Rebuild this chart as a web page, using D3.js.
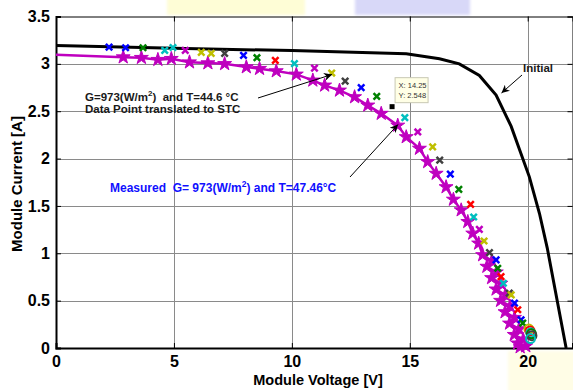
<!DOCTYPE html>
<html>
<head>
<meta charset="utf-8">
<script src="https://cdn.jsdelivr.net/npm/d3@7"></script>
<style>
  body { margin: 0; background: #fff; }
  svg { display: block; font-family: Arial, 'Liberation Sans', sans-serif; }
  text { white-space: pre; }
</style>
</head>
<body>
<div id="chart"></div>
<script>
// Initial (model) curve
let initialV = [0, 5, 10, 14.85, 16.26, 17.1, 17.95, 18.66, 19.3, 20.07, 20.5, 20.83, 21.63];
let initialI = [3.195, 3.165, 3.14, 3.107, 3.054, 3.0, 2.878, 2.67, 2.34, 1.807, 1.42, 1.055, 0];

// Measured curve (stars)
let measV = [0, 2.85, 3.62, 4.32, 4.89, 5.66, 6.44, 7.15, 8.07, 8.63, 9.34, 10.19, 10.89, 11.39, 12.02,
  12.66, 13.22, 13.79, 14.49, 14.85, 15.41, 15.76, 16.12, 16.54, 16.85, 17.18, 17.46, 17.67, 17.92, 18.09,
  18.48, 18.27, 18.67, 18.47, 18.86, 18.66, 19.05, 18.85, 19.25, 19.04, 19.44, 19.23, 19.63, 19.43,
  19.81, 19.57, 19.92, 19.68];
let measI = [3.095, 3.071, 3.065, 3.044, 3.054, 3.018, 3.008, 3.0, 2.966, 2.949, 2.924, 2.889, 2.826, 2.773, 2.72,
  2.65, 2.562, 2.475, 2.35, 2.228, 2.106, 1.965, 1.842, 1.7, 1.568, 1.456, 1.333, 1.21, 1.105, 0.982,
  0.92, 0.86, 0.8, 0.74, 0.68, 0.62, 0.56, 0.5, 0.44, 0.38, 0.32, 0.26, 0.2, 0.14,
  0.09, 0.05, 0.02, 0.01];

// Translated data points (x markers), series index into the color order
let stcV = [2.25, 2.95, 3.69, 4.61, 4.96, 5.48, 6.16, 6.58, 7.15, 7.95, 8.52, 9.3, 10.11, 10.96, 11.69,
  12.26, 12.94, 13.6, 14.79, 15.34, 15.97, 16.27, 16.72, 17.08, 17.58, 17.71, 17.95, 18.15, 18.38,
  18.66, 18.73, 18.87, 18.97, 19.22, 19.3, 19.44, 19.58, 19.72, 19.79];
let stcI = [3.177, 3.17, 3.17, 3.142, 3.173, 3.142, 3.121, 3.11, 3.11, 3.089, 3.065, 3.037, 3.002, 2.955, 2.903,
  2.818, 2.749, 2.657, 2.433, 2.281, 2.123, 1.983, 1.836, 1.675, 1.517, 1.383, 1.253, 1.13, 1.007,
  0.93, 0.842, 0.754, 0.684, 0.58, 0.561, 0.474, 0.404, 0.298, 0.263];
let stcSeries = [0, 0, 1, 3, 3, 4, 5, 5, 6, 0, 1, 2, 3, 4, 5,
  6, 0, 1, 3, 4, 5, 6, 0, 1, 2, 3, 4, 5, 6,
  0, 1, 2, 3, 6, 5, 0, 2, 0, 1];

// Open-circle markers near Voc
let endV = [20.05, 20.1, 20.13, 20.16, 20.18, 20.12];
let endI = [0.2, 0.18, 0.16, 0.15, 0.13, 0.1];
let endSeries = [5, 2, 3, 1, 6, 3];

// Data tip
let tipV = 14.25;
let tipI = 2.548;

// Axis ticks
let xTicks = [0, 5, 10, 15, 20];
let yTicks = [0, 0.5, 1, 1.5, 2, 2.5, 3, 3.5];

// MATLAB color order
let colorOrder = ['#0000ff', '#008000', '#ff0000', '#00bfbf', '#bf00bf', '#bfbf00', '#404040'];

let width = 573;
let height = 390;

let svg = d3.select('#chart')
  .append('svg')
  .attr('width', width)
  .attr('height', height);

// Faint watermark patches around the figure
let blur = svg.append('defs').append('filter').attr('id', 'soft');
blur.append('feGaussianBlur').attr('stdDeviation', 1.5);
svg.append('rect').attr('x', 167).attr('y', -4).attr('width', 138).attr('height', 19)
  .attr('fill', '#fefdd6').attr('filter', 'url(#soft)');
svg.append('rect').attr('x', 355).attr('y', -4).attr('width', 115).attr('height', 19)
  .attr('fill', '#d8d8f8').attr('filter', 'url(#soft)');
svg.append('rect').attr('x', 508).attr('y', 351).attr('width', 70).attr('height', 45)
  .attr('fill', '#fffde6').attr('filter', 'url(#soft)');

let x = d3.scaleLinear().domain([0, 21.9]).range([56, 572.5]);
let y = d3.scaleLinear().domain([0, 3.5]).range([348, 16.5]);

// Grid
let grid = svg.append('g').attr('stroke', '#8a8a8a').attr('stroke-width', 1);
grid.selectAll('.gx')
  .data(xTicks.slice(1))
  .enter()
  .append('line')
  .attr('x1', (d) => Math.round(x(d)) + 0.5)
  .attr('x2', (d) => Math.round(x(d)) + 0.5)
  .attr('y1', y(3.5))
  .attr('y2', y(0));
grid.selectAll('.gy')
  .data(yTicks.slice(1, -1))
  .enter()
  .append('line')
  .attr('x1', x(0))
  .attr('x2', x(21.9))
  .attr('y1', (d) => Math.round(y(d)) + 0.5)
  .attr('y2', (d) => Math.round(y(d)) + 0.5);

// Axes (ticks pointing inward)
let axisFont = 'bold 16px Arial, "Liberation Sans", sans-serif';
let xAxis = svg.append('g')
  .attr('transform', 'translate(0,' + y(0) + ')')
  .call(d3.axisBottom(x).tickValues(xTicks).tickSize(-5).tickPadding(8).tickFormat(d3.format('d')));
let yAxis = svg.append('g')
  .attr('transform', 'translate(' + x(0) + ',0)')
  .call(d3.axisLeft(y).tickValues(yTicks).tickSize(-5).tickPadding(6).tickFormat((d) => d));
let xTop = svg.append('g')
  .attr('transform', 'translate(0,' + y(3.5) + ')')
  .call(d3.axisTop(x).tickValues(xTicks).tickSize(-5).tickFormat(''));
let yRight = svg.append('g')
  .attr('transform', 'translate(' + x(21.9) + ',0)')
  .call(d3.axisRight(y).tickValues(yTicks).tickSize(-5).tickFormat(''));

[xAxis, yAxis, xTop, yRight].forEach((a) => {
  a.selectAll('.domain').attr('stroke', '#000');
  a.selectAll('.tick line').attr('stroke', '#000');
  a.selectAll('text').style('font', axisFont).attr('fill', '#000');
});
xAxis.select('.domain').attr('stroke-width', 2);
yAxis.select('.domain').attr('stroke-width', 2);

// Axis titles
svg.append('text')
  .attr('x', 318)
  .attr('y', 385)
  .attr('text-anchor', 'middle')
  .style('font', 'bold 14.5px Arial, "Liberation Sans", sans-serif')
  .text('Module Voltage [V]');
svg.append('text')
  .attr('transform', 'translate(22,184) rotate(-90)')
  .attr('text-anchor', 'middle')
  .style('font', 'bold 15px Arial, "Liberation Sans", sans-serif')
  .text('Module Current [A]');

let line = d3.line()
  .x((d) => x(d[0]))
  .y((d) => y(d[1]));

// Initial curve
svg.append('path')
  .attr('d', line(d3.zip(initialV, initialI)))
  .attr('fill', 'none')
  .attr('stroke', '#000')
  .attr('stroke-width', 3);

// Measured curve
let measured = d3.zip(measV, measI);
svg.append('path')
  .attr('d', line(measured))
  .attr('fill', 'none')
  .attr('stroke', '#bf00bf')
  .attr('stroke-width', 2.5);

let star = d3.symbol().type(d3.symbolStar).size(60);
svg.selectAll('.star')
  .data(measured.slice(1))
  .enter()
  .append('path')
  .attr('d', star)
  .attr('transform', (d) => 'translate(' + x(d[0]) + ',' + y(d[1]) + ')')
  .attr('fill', '#bf00bf')
  .attr('stroke', '#bf00bf')
  .attr('stroke-width', 1);

// x markers
let s = 3.2;
svg.selectAll('.xm')
  .data(d3.zip(stcV, stcI, stcSeries))
  .enter()
  .append('path')
  .attr('d', 'M' + -s + ',' + -s + 'L' + s + ',' + s + 'M' + -s + ',' + s + 'L' + s + ',' + -s)
  .attr('transform', (d) => 'translate(' + x(d[0]) + ',' + y(d[1]) + ')')
  .attr('stroke', (d) => colorOrder[d[2]])
  .attr('stroke-width', 2.5)
  .attr('fill', 'none');

// Open circles at the end of the sweep
svg.selectAll('.om')
  .data(d3.zip(endV, endI, endSeries))
  .enter()
  .append('circle')
  .attr('cx', (d) => x(d[0]))
  .attr('cy', (d) => y(d[1]))
  .attr('r', 4.5)
  .attr('fill', 'none')
  .attr('stroke', (d) => colorOrder[d[2]])
  .attr('stroke-width', 2);

// Data tip
svg.append('rect')
  .attr('x', x(tipV) - 2.5)
  .attr('y', y(tipI) - 2.5)
  .attr('width', 5)
  .attr('height', 5)
  .attr('fill', '#000');
let tip = svg.append('g').attr('transform', 'translate(' + (x(tipV) + 3) + ',' + (y(tipI) - 29) + ')');
tip.append('rect')
  .attr('width', 33)
  .attr('height', 25)
  .attr('fill', '#ffffe6')
  .attr('stroke', '#c8c8b4');
tip.append('text').attr('x', 3.5).attr('y', 10.5).style('font', '7.5px Arial, "Liberation Sans", sans-serif')
  .attr('fill', '#333').text('X: ' + tipV);
tip.append('text').attr('x', 3.5).attr('y', 20.5).style('font', '7.5px Arial, "Liberation Sans", sans-serif')
  .attr('fill', '#333').text('Y: ' + tipI);

// Arrows
svg.append('defs').append('marker')
  .attr('id', 'head')
  .attr('viewBox', '0 0 10 10')
  .attr('refX', 10)
  .attr('refY', 5)
  .attr('markerWidth', 10)
  .attr('markerHeight', 8)
  .attr('markerUnits', 'userSpaceOnUse')
  .attr('orient', 'auto')
  .append('path')
  .attr('d', 'M0,0L10,5L0,10L3,5Z')
  .attr('fill', '#000');

let arrows = [
  [258, 98, 332, 74.5],
  [522, 75, 501.5, 93],
  [350, 177, 398, 124.5]
];
svg.selectAll('.arrow')
  .data(arrows)
  .enter()
  .append('line')
  .attr('x1', (d) => d[0])
  .attr('y1', (d) => d[1])
  .attr('x2', (d) => d[2])
  .attr('y2', (d) => d[3])
  .attr('stroke', '#000')
  .attr('stroke-width', 1)
  .attr('marker-end', 'url(#head)');

// Annotations
let noteFont = 'bold 11.5px Arial, "Liberation Sans", sans-serif';
let note1 = svg.append('text').attr('x', 85).attr('y', 101).style('font', noteFont).attr('fill', '#1a1a1a');
note1.append('tspan').text('G=973(W/m');
note1.append('tspan').attr('dy', -5).style('font-size', '8px').text('2');
note1.append('tspan').attr('dy', 5).text(')  and T=44.6 °C');
svg.append('text').attr('x', 85).attr('y', 113).style('font', noteFont).attr('fill', '#1a1a1a')
  .text('Data Point translated to STC');

svg.append('text').attr('x', 523).attr('y', 72).style('font', noteFont).attr('fill', '#1a1a1a')
  .text('Initial');

let note3 = svg.append('text').attr('x', 110).attr('y', 192)
  .style('font', 'bold 12px Arial, "Liberation Sans", sans-serif').attr('fill', '#1010ff');
note3.append('tspan').text('Measured  G= 973(W/m');
note3.append('tspan').attr('dy', -5).style('font-size', '8.5px').text('2');
note3.append('tspan').attr('dy', 5).text(') and T=47.46°C');
</script>
</body>
</html>
